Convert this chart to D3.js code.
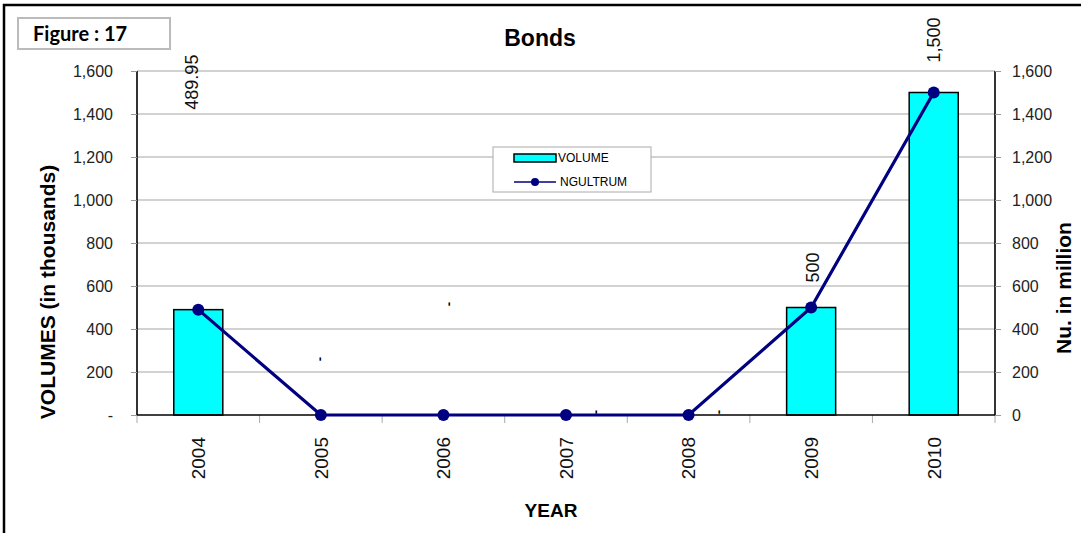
<!DOCTYPE html>
<html>
<head>
<meta charset="utf-8">
<script src="https://d3js.org/d3.v7.min.js"></script>
<style>
  body { margin: 0; background: #fff; }
  text { font-family: Arial, "Liberation Sans", sans-serif; }
</style>
</head>
<body>
<script>
// chart data
let years = ["2004", "2005", "2006", "2007", "2008", "2009", "2010"];
let volume = [490, 0, 0, 0, 0, 500, 1500];
let ngultrum = [489.95, 0, 0, 0, 0, 500, 1500];
let pointLabels = ["489.95", "-", "-", "-", "-", "500", "1,500"];
let leftTicks = [0, 200, 400, 600, 800, 1000, 1200, 1400, 1600];
let rightTicks = [0, 200, 400, 600, 800, 1000, 1200, 1400, 1600];

let width = 1081, height = 533;
let plot = {left: 137, right: 995, top: 71, bottom: 415};

let svg = d3.select("body").append("svg")
    .attr("width", width)
    .attr("height", height);

// outer frame (right and bottom edges fall outside the picture)
svg.append("rect")
    .attr("x", 4).attr("y", 5)
    .attr("width", 1100).attr("height", 560)
    .attr("fill", "none").attr("stroke", "black").attr("stroke-width", 2.5);

// scales
let x = d3.scaleBand()
    .domain(years)
    .range([plot.left, plot.right]);
let yL = d3.scaleLinear().domain([0, 1600]).range([plot.bottom, plot.top]);
let yR = d3.scaleLinear().domain([0, 1600]).range([plot.bottom, plot.top]);

// gridlines
svg.append("g").selectAll("line")
    .data(leftTicks.filter(d => d > 0))
    .join("line")
    .attr("x1", plot.left).attr("x2", plot.right)
    .attr("y1", d => yL(d)).attr("y2", d => yL(d))
    .attr("stroke", "#a6a6a6").attr("stroke-width", 1.2);

// left axis
let axL = svg.append("g")
    .attr("transform", `translate(${plot.left},0)`)
    .call(d3.axisLeft(yL).tickValues(leftTicks).tickSize(6).tickPadding(18)
        .tickFormat(d => d === 0 ? "-" : d3.format(",")(d)));
axL.select(".domain").attr("stroke", "black").attr("stroke-width", 1.6).attr("d", `M0,${plot.top}V${plot.bottom}`);
axL.selectAll(".tick line").attr("stroke", "#999");
axL.selectAll(".tick text").attr("font-size", 16).attr("fill", "#222")
    .attr("font-family", "Arial, 'Liberation Sans', sans-serif");

// right axis
let axR = svg.append("g")
    .attr("transform", `translate(${plot.right},0)`)
    .call(d3.axisRight(yR).tickValues(rightTicks).tickSize(6).tickPadding(11)
        .tickFormat(d3.format(",")));
axR.select(".domain").attr("stroke", "black").attr("stroke-width", 1.6).attr("d", `M0,${plot.top}V${plot.bottom}`);
axR.selectAll(".tick line").attr("stroke", "#999");
axR.selectAll(".tick text").attr("font-size", 16).attr("fill", "#222")
    .attr("font-family", "Arial, 'Liberation Sans', sans-serif");

// category ticks at band boundaries
let bounds = years.map(d => x(d)).concat([x(years[years.length - 1]) + x.bandwidth()]);
svg.append("g").selectAll("line")
    .data(bounds)
    .join("line")
    .attr("x1", d => d).attr("x2", d => d)
    .attr("y1", plot.bottom).attr("y2", plot.bottom + 8)
    .attr("stroke", "#aaa").attr("stroke-width", 1);

// year labels (rotated)
svg.append("g").selectAll("text")
    .data(years)
    .join("text")
    .attr("transform", d => `translate(${x(d) + x.bandwidth() / 2},437) rotate(-90)`)
    .attr("text-anchor", "end")
    .attr("dy", "0.36em")
    .attr("font-size", 19)
    .attr("fill", "#111")
    .text(d => d);

// bars
let barW = x.bandwidth() * 0.4;
svg.append("g").selectAll("rect")
    .data(volume.map((v, i) => ({year: years[i], v: v})).filter(d => d.v > 0))
    .join("rect")
    .attr("x", d => x(d.year) + (x.bandwidth() - barW) / 2)
    .attr("y", d => yL(d.v))
    .attr("width", barW)
    .attr("height", d => yL(0) - yL(d.v))
    .attr("fill", "#00ffff")
    .attr("stroke", "black")
    .attr("stroke-width", 1.5);

// bottom axis line
svg.append("line")
    .attr("x1", plot.left).attr("x2", plot.right)
    .attr("y1", plot.bottom).attr("y2", plot.bottom)
    .attr("stroke", "black").attr("stroke-width", 1.6);

// line series
let cx = (d, i) => x(years[i]) + x.bandwidth() / 2;
let line = d3.line().x(cx).y(d => yR(d));
svg.append("path")
    .datum(ngultrum)
    .attr("d", line)
    .attr("fill", "none")
    .attr("stroke", "#000080")
    .attr("stroke-width", 3.2);
svg.append("g").selectAll("circle")
    .data(ngultrum)
    .join("circle")
    .attr("cx", cx)
    .attr("cy", d => yR(d))
    .attr("r", 6)
    .attr("fill", "#000080");

// data labels; pixel offsets of each label from its point, as placed in the original
let labelOffset = [[-7, -200], [-2, -56], [5, -111], [29, -3], [30, -3], [1, -25], [0, -30]];
svg.append("g").selectAll("text")
    .data(ngultrum)
    .join("text")
    .attr("transform", (d, i) => `translate(${cx(d, i) + labelOffset[i][0]},${yR(d) + labelOffset[i][1]}) rotate(-90)`)
    .attr("text-anchor", (d, i) => pointLabels[i] === "-" ? "middle" : "start")
    .attr("dy", "0.36em")
    .attr("font-size", (d, i) => pointLabels[i] === "-" ? 13 : 18)
    .attr("font-weight", (d, i) => pointLabels[i] === "-" ? "bold" : "normal")
    .attr("fill", (d, i) => pointLabels[i] === "-" ? "#000" : "#111")
    .text((d, i) => pointLabels[i]);

// title
svg.append("text")
    .attr("x", 540).attr("y", 46)
    .attr("text-anchor", "middle")
    .attr("font-size", 23).attr("font-weight", "bold")
    .text("Bonds");

// figure label box
svg.append("rect")
    .attr("x", 18).attr("y", 18).attr("width", 152).attr("height", 31)
    .attr("fill", "white").attr("stroke", "#bbb").attr("stroke-width", 2);
svg.append("text")
    .attr("x", 33).attr("y", 41)
    .attr("font-size", 20).attr("font-weight", "bold")
    .style("font-family", "Lato, 'Open Sans', sans-serif")
    .text("Figure : 17");

// axis titles
svg.append("text")
    .attr("transform", "translate(47,292) rotate(-90)")
    .attr("text-anchor", "middle").attr("dy", "0.36em")
    .attr("font-size", 21).attr("font-weight", "bold")
    .text("VOLUMES (in thousands)");
svg.append("text")
    .attr("transform", "translate(1063,288) rotate(-90)")
    .attr("text-anchor", "middle").attr("dy", "0.36em")
    .attr("font-size", 21).attr("font-weight", "bold")
    .text("Nu. in million");
svg.append("text")
    .attr("x", 551).attr("y", 517)
    .attr("text-anchor", "middle")
    .attr("font-size", 19).attr("font-weight", "bold")
    .text("YEAR");

// legend
let legend = svg.append("g").attr("transform", "translate(493,147)");
legend.append("rect")
    .attr("width", 158).attr("height", 45)
    .attr("fill", "white").attr("stroke", "#aaa").attr("stroke-width", 1);
legend.append("rect")
    .attr("x", 21).attr("y", 7).attr("width", 42).attr("height", 8)
    .attr("fill", "#00ffff").attr("stroke", "black").attr("stroke-width", 1.5);
legend.append("text")
    .attr("x", 65).attr("y", 11).attr("dy", "0.36em")
    .attr("font-size", 12).text("VOLUME");
legend.append("line")
    .attr("x1", 21).attr("x2", 63).attr("y1", 35).attr("y2", 35)
    .attr("stroke", "#000080").attr("stroke-width", 1.5);
legend.append("circle")
    .attr("cx", 42).attr("cy", 35).attr("r", 4).attr("fill", "#000080");
legend.append("text")
    .attr("x", 67).attr("y", 35).attr("dy", "0.36em")
    .attr("font-size", 12).text("NGULTRUM");
</script>
</body>
</html>
